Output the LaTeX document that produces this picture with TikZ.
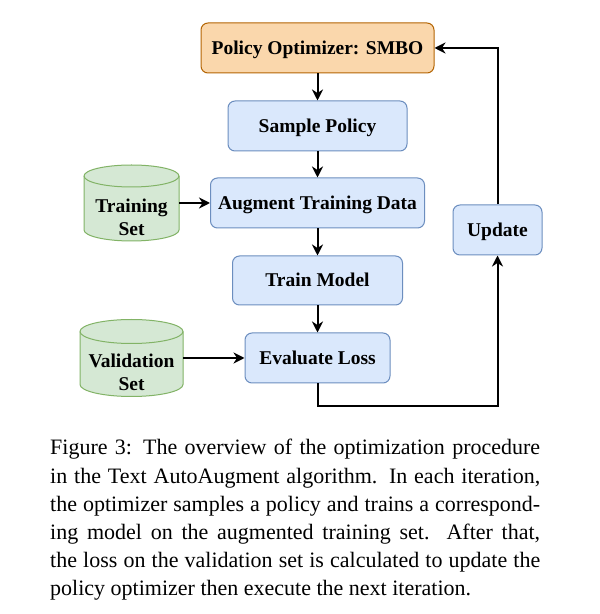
\documentclass[tikz,border=0pt]{standalone}
\usepackage{fontspec}
\setmainfont{Liberation Serif}
\usetikzlibrary{arrows.meta}
\definecolor{ofill}{HTML}{FAD7AC}\definecolor{odraw}{HTML}{B46504}
\definecolor{bfill}{HTML}{DAE8FC}\definecolor{bdraw}{HTML}{6C8EBF}
\definecolor{gfill}{HTML}{D5E8D4}\definecolor{gdraw}{HTML}{82B366}
\begin{document}
\begin{tikzpicture}[x=1pt,y=1pt,
  box/.style={draw=bdraw, fill=bfill, rounded corners=7pt, line width=1pt,
    font=\fontsize{19.5}{23}\selectfont\bfseries, inner sep=0pt, align=center,
    text height=13pt, text depth=0pt},
  optbox/.style={box, draw=odraw, fill=ofill},
  cylbody/.style={draw=gdraw, fill=gfill, line width=1pt},
  cyllabel/.style={font=\fontsize{19.5}{23}\selectfont\bfseries, align=center, inner sep=0pt},
  arr/.style={line width=2pt, -{Stealth[length=11pt,width=11pt,inset=3.5pt]}},
  captext/.style={anchor=base west, inner sep=0pt, font=\fontsize{22}{28}\selectfont}]

\useasboundingbox (0,0) rectangle (600,614);
\fill[white] (0,0) rectangle (600,614);

% boxes
\node[optbox, minimum width=233pt, minimum height=50pt] (opt) at (317.5,566) {Policy Optimizer: SMBO};
\node[box, minimum width=179pt, minimum height=50pt] (samp) at (317.5,488) {Sample Policy};
\node[box, minimum width=214pt, minimum height=50pt] (aug) at (317.5,411) {Augment Training Data};
\node[box, minimum width=170pt, minimum height=49pt] (trm) at (317.5,333.5) {Train Model};
\node[box, minimum width=145pt, minimum height=50pt] (eval) at (317.5,256) {Evaluate Loss};
\node[box, minimum width=89pt, minimum height=50pt] (upd) at (497.5,384) {Update};

% training set cylinder
\draw[cylbody] (84,438) -- (84,384) arc[start angle=180,end angle=360,x radius=47.5,y radius=11]
  -- (179,438) arc[start angle=0,end angle=180,x radius=47.5,y radius=11] -- cycle;
\draw[draw=gdraw, line width=1pt] (84,438) arc[start angle=180,end angle=360,x radius=47.5,y radius=11];
\node[minimum width=95pt, minimum height=76pt, inner sep=0pt] (train) at (131.5,411) {};
\node[cyllabel] (trainlbl) at (131.5,397) {Training\\Set};

% validation set cylinder
\draw[cylbody] (80,282.5) -- (80,229.5) arc[start angle=180,end angle=360,x radius=51.5,y radius=12]
  -- (183,282.5) arc[start angle=0,end angle=180,x radius=51.5,y radius=12] -- cycle;
\draw[draw=gdraw, line width=1pt] (80,282.5) arc[start angle=180,end angle=360,x radius=51.5,y radius=12];
\node[minimum width=103pt, minimum height=77pt, inner sep=0pt] (val) at (131.5,256) {};
\node[cyllabel] (vallbl) at (131.5,242) {Validation\\Set};

% connectors
\draw[arr] (opt) -- (samp);
\draw[arr] (samp) -- (aug);
\draw[arr] (aug) -- (trm);
\draw[arr] (trm) -- (eval);
\draw[arr] (train.east) -- (aug.west);
\draw[arr] (val.east) -- (eval.west);
\draw[arr] (eval.south) -- ++(0,-23) -| (upd.south);
\draw[arr] (upd.north) |- (opt.east);

% caption
\node[captext] (cap1) at (50,159) {\makebox[490pt][s]{Figure 3: The overview of the optimization procedure}};
\node[captext] (cap2) at (50,130.7) {\makebox[490pt][s]{in the Text AutoAugment algorithm.  In each iteration,}};
\node[captext] (cap3) at (50,102.3) {\makebox[490pt][s]{the optimizer samples a policy and trains a correspond-}};
\node[captext] (cap4) at (50,74.7) {\makebox[490pt][s]{ing model on the augmented training set.  After that,}};
\node[captext] (cap5) at (50,46.3) {\makebox[490pt][s]{the loss on the validation set is calculated to update the}};
\node[captext] (cap6) at (50,18.3) {policy optimizer then execute the next iteration.};
\end{tikzpicture}
\end{document}
